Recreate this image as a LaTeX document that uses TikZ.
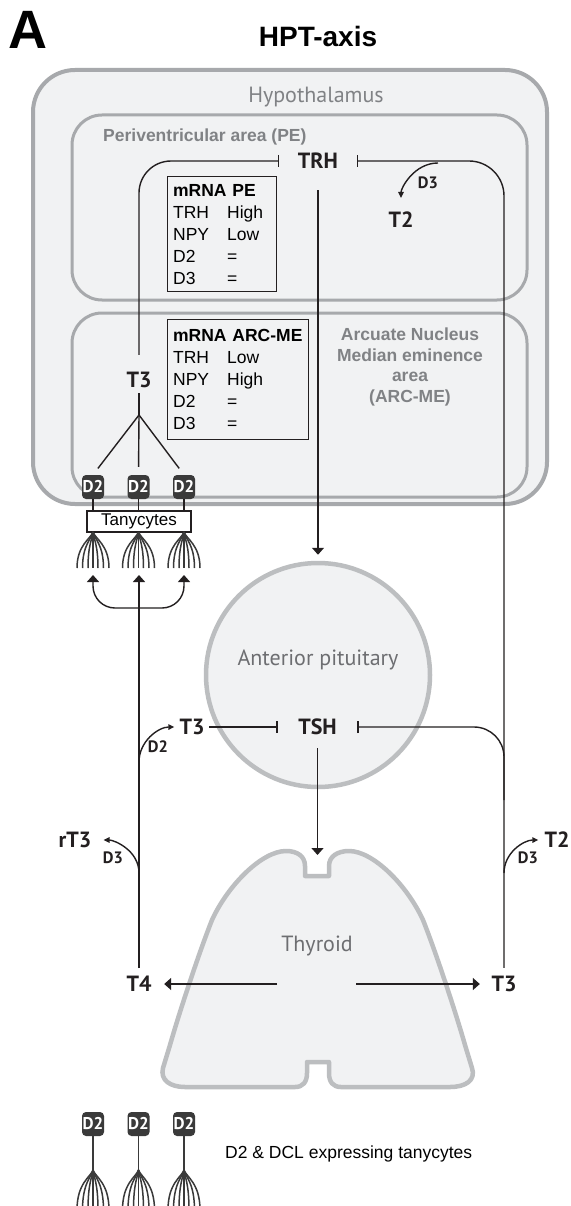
\documentclass[tikz,border=0pt]{standalone}
\usepackage{fontspec}
\setmainfont{Liberation Sans}
\newfontfamily\myr{PT Sans}
\usetikzlibrary{arrows.meta}

\definecolor{rim}{HTML}{A7A9AC}
\definecolor{rimlight}{HTML}{BCBEC0}
\definecolor{paper}{HTML}{F1F2F3}
\definecolor{ink}{HTML}{231F20}
\definecolor{greytext}{HTML}{808285}
\definecolor{organtext}{HTML}{6D6E71}
\definecolor{dtwo}{HTML}{3A3A3A}

% a brush of tanycyte processes hanging from (#1,#2) down to y=#3
\newcommand\tanyfan[3]{%
  \foreach \dx in {-16,-10.5,-5,0,5,10.5,16}{%
    \draw[fanline] (#1,#2) .. controls ({#1+0.15*\dx},{#2+7}) and ({#1+\dx},{#2+13}) .. ({#1+\dx},#3);}}

\begin{document}
\begin{tikzpicture}[x=1pt,y=-1pt,
  conn/.style={draw=ink,line width=1.4pt},
  arr/.style={conn,-{Triangle[length=7pt,width=12pt]}},
  sarr/.style={conn,-{Triangle[length=6pt,width=5.5pt]}},
  inh/.style={conn,-{Bar[width=12pt]}},
  inhs/.style={conn,{Bar[width=12pt]}-},
  lab/.style={font=\myr\bfseries\fontsize{22}{24}\selectfont,text=ink,inner sep=0pt},
  enz/.style={font=\myr\bfseries\fontsize{16.5}{18}\selectfont,text=ink,inner sep=0pt},
  organ/.style={font=\myr\fontsize{22}{24}\selectfont,text=organtext,inner sep=0pt,anchor=base},
  region/.style={draw=rim,line width=3pt,rounded corners=30pt},
  mbox/.style={draw=ink,line width=1.3pt,fill=paper,anchor=north west,inner xsep=5.5pt,inner ysep=0pt,
    align=left,font=\fontsize{17.5}{22}\selectfont},
  dbox/.style={fill=dtwo,rounded corners=4pt,minimum width=22pt,minimum height=24pt,inner sep=0pt,
    text=white,font=\myr\bfseries\fontsize{17}{17}\selectfont},
  fanline/.style={draw=dtwo,line width=1.5pt}
]
\fill[white] (0,0) rectangle (570,1206);
\useasboundingbox (0,0) rectangle (570,1206);

% headings
\node[anchor=base west,inner sep=0pt,font=\bfseries\fontsize{54}{54}\selectfont] (panel) at (8,49) {A};
\node[anchor=base,inner sep=0pt,font=\bfseries\fontsize{28}{28}\selectfont] (title) at (318,47) {HPT-axis};

% hypothalamus and its two areas
\draw[draw=rim,line width=4pt,fill=paper,rounded corners=42pt] (33,70) rectangle (547,504);
\draw[region] (72,115) rectangle (527,300);
\draw[region] (72,313) rectangle (527,497);
\node[organ,text=greytext] (hypo) at (316,103) {Hypothalamus};
\node[anchor=base west,inner sep=0pt,text=greytext,font=\bfseries\fontsize{17.5}{20}\selectfont] (pelab) at (103,142) {Periventricular area (PE)};
\node[align=center,inner sep=0pt,text=greytext,font=\bfseries\fontsize{17.5}{20.5}\selectfont] (arclab) at (410,367)
  {Arcuate Nucleus\\Median eminence\\area\\(ARC-ME)};

% mRNA tables
\node[mbox,text width=98pt,minimum height=115pt] (mpe) at (167,176)
  {\mbox{\textbf{mRNA PE}}\\\makebox[54pt][l]{TRH}High\\\makebox[54pt][l]{NPY}Low\\\makebox[54pt][l]{D2}=\\\makebox[54pt][l]{D3}=};
\node[mbox,text width=130pt,minimum height=120pt] (marc) at (167,319)
  {\mbox{\textbf{mRNA ARC-ME}}\\\makebox[54pt][l]{TRH}Low\\\makebox[54pt][l]{NPY}High\\\makebox[54pt][l]{D2}=\\\makebox[54pt][l]{D3}=};

% pituitary and thyroid
\node[circle,draw=rimlight,line width=4.5pt,fill=paper,minimum size=224pt,inner sep=0pt] (pit) at (318,675) {};
\node[organ] (pitlab) at (318,665) {Anterior pituitary};
\draw[draw=rimlight,line width=4.5pt,fill=paper,line join=round]
  (305,876) -- (305,866)
  .. controls (305,856) and (297,851) .. (286,851)
  .. controls (262,851) and (228,885) .. (212,920)
  .. controls (200,950) and (180,1010) .. (170,1045)
  -- (163,1068)
  .. controls (160,1080) and (170,1087) .. (185,1087)
  -- (295,1087)
  .. controls (303,1087) and (307,1082) .. (307,1073)
  -- (307,1062) -- (329,1062) -- (329,1073)
  .. controls (329,1082) and (333,1087) .. (341,1087)
  -- (450,1087)
  .. controls (466,1087) and (476,1080) .. (472,1068)
  -- (465,1045)
  .. controls (455,1010) and (435,950) .. (423,920)
  .. controls (407,885) and (373,851) .. (349,851)
  .. controls (338,851) and (329,856) .. (329,866)
  -- (329,876) -- cycle;
\node[organ] (thylab) at (317,951) {Thyroid};

% hormone labels
\node[lab,minimum width=77pt] (TRH) at (318,161) {TRH};
\node[lab] (T3a) at (139,380) {T3};
\node[lab] (T2a) at (401,220) {T2};
\node[lab] (T3c) at (192,727) {T3};
\node[lab,minimum width=79pt] (TSH) at (317.5,727) {TSH};
\node[lab] (rT3) at (75,840) {rT3};
\node[lab] (T2b) at (557,840) {T2};
\node[lab] (T4) at (139,984) {T4};
\node[lab] (T3b) at (504,984) {T3};
\node[enz] (d3top) at (428,183) {D3};
\node[enz] (d2left) at (158,747) {D2};
\node[enz] (d3left) at (113,858) {D3};
\node[enz] (d3right) at (528,858) {D3};

% tanycytes at the median eminence
\node[dbox] (dA1) at (93,487) {D2};
\node[dbox] (dA2) at (138.5,487) {D2};
\node[dbox] (dA3) at (184,487) {D2};
\node[draw=ink,line width=1.3pt,fill=white,minimum width=104pt,minimum height=21pt,inner sep=0pt,
  font=\fontsize{17}{17}\selectfont] (tany) at (139,521.5) {Tanycytes};
\tanyfan{93}{532}{568}
\tanyfan{138.5}{532}{568}
\tanyfan{184}{532}{568}
\coordinate (f1b) at (93,568);
\coordinate (f2b) at (139,568);
\coordinate (f3b) at (184,568);
\coordinate (br) at (139,415);
\coordinate (split) at (139,608);

% junction points on the long vertical lines
\coordinate (dl1) at (139,762);
\coordinate (dl2) at (139,873);
\coordinate (dr2) at (504,873);
\coordinate (rj) at (504,800);
\coordinate (d3t) at (438,163);
\coordinate (thyTop) at (317.5,855);
\coordinate (thyL) at (277,984);
\coordinate (thyR) at (356,984);

% feedback of T3 in the ARC-ME onto TRH
\draw[inh,rounded corners=32pt] ([yshift=17pt]T3a.north) |- (TRH.west);
\draw[conn,shorten <=5pt] (T3a.south) -- (br);
\foreach \i in {1,2,3}{
  \draw[conn,shorten >=8pt] (br) -- (dA\i.north);
  \draw[conn] (dA\i.south) -- (dA\i.south |- tany.north);
}

% circulating T4 taken up by the tanycytes
\draw[arr,shorten <=8pt,shorten >=7pt] (T4.north) -- (f2b);
\draw[arr,rounded corners=22pt,shorten >=7pt] (split) -| (f1b);
\draw[arr,rounded corners=22pt,shorten >=7pt] (split) -| (f3b);

% peripheral T3 feedback onto TRH and TSH
\draw[inh,rounded corners=35pt,shorten <=8pt] (T3b.north) |- (TRH.east);
\draw[inhs,rounded corners=30pt] (TSH.east) -| (rj);
\draw[inh,shorten <=4.5pt] (T3c.east) -- (TSH.west);

% deiodinase side branches
\draw[sarr,shorten >=5pt] (dl1) to[out=90,in=180] (T3c.west);
\draw[sarr,shorten >=12pt] (dl2) to[out=90,in=0] (rT3.east);
\draw[sarr,shorten >=6pt] (dr2) to[out=90,in=180] (T2b.west);
\draw[sarr,shorten >=14pt] (d3t) to[out=180,in=90] (T2a.north);

% stimulatory axis
\draw[arr,shorten <=21pt,shorten >=6pt] (TRH.south) -- (pit.north);
\draw[arr,shorten <=13pt] (TSH.south) -- (thyTop);
\draw[arr,shorten >=12.5pt] (thyL) -- (T4.east);
\draw[arr,shorten >=11.5pt] (thyR) -- (T3b.west);

% key
\node[dbox] (dB1) at (93,1124) {D2};
\node[dbox] (dB2) at (138.5,1124) {D2};
\node[dbox] (dB3) at (184,1124) {D2};
\coordinate (kA1) at (93,1170);
\coordinate (kA2) at (138.5,1170);
\coordinate (kA3) at (184,1170);
\foreach \i in {1,2,3}{\draw[fanline] (dB\i.south) -- (kA\i);}
\tanyfan{93}{1170}{1210}
\tanyfan{138.5}{1170}{1210}
\tanyfan{184}{1170}{1210}
\node[anchor=west,inner sep=0pt,font=\fontsize{17.5}{20}\selectfont] (keytext) at (225,1154) {D2 \& DCL expressing tanycytes};
\end{tikzpicture}
\end{document}
